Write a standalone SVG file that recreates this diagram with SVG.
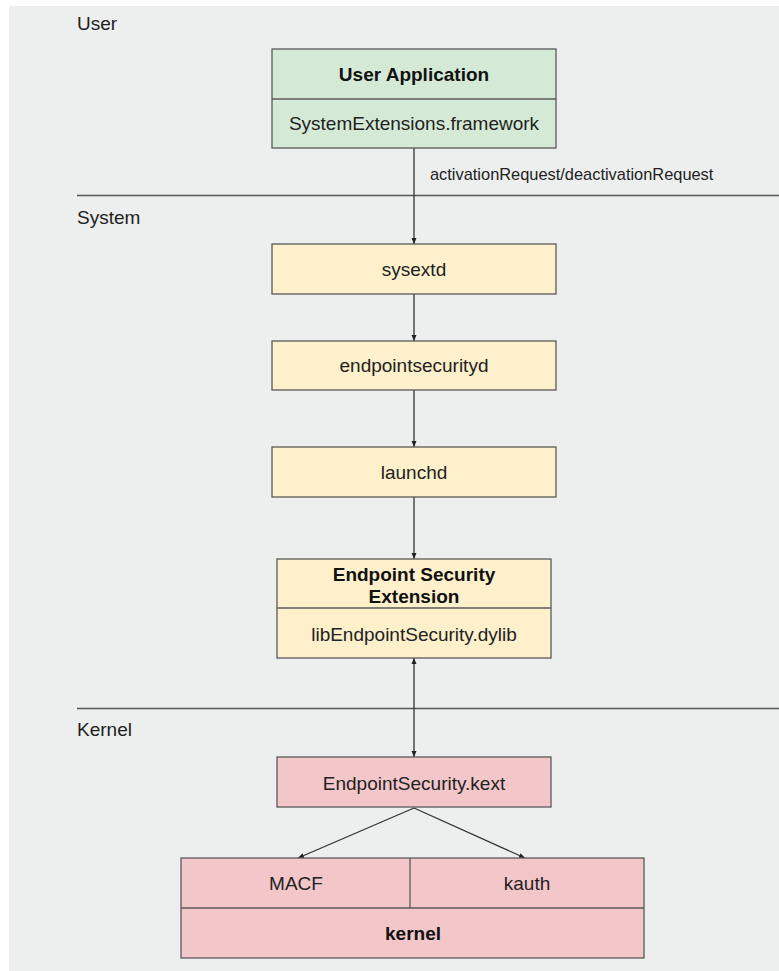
<svg xmlns="http://www.w3.org/2000/svg" width="779" height="971" viewBox="0 0 779 971">
  <style>
    .lane { font-family: "Liberation Sans", Arial, sans-serif; font-size: 19px; fill: #222; }
    .t { font-family: "Liberation Sans", Arial, sans-serif; font-size: 19px; fill: #222; text-anchor: middle; }
    .b { font-weight: bold; fill: #111; }
    .lbl { font-family: "Liberation Sans", Arial, sans-serif; font-size: 16.4px; fill: #222; }
    .box { stroke: #5a5a5a; stroke-width: 1.3; }
    .green { fill: #d5ead6; }
    .yellow { fill: #fdf0cb; }
    .pink { fill: #f3c6c9; }
    .sep { stroke: #555; stroke-width: 1.3; fill: none; }
    .edge { stroke: #333; stroke-width: 1.3; fill: none; }
  </style>
  <defs>
    <marker id="arr" viewBox="0 0 6 6" refX="6" refY="3" markerWidth="6" markerHeight="6" markerUnits="userSpaceOnUse" orient="auto-start-reverse">
      <path d="M0,0.5 L6,3 L0,5.5 z" fill="#222"/>
    </marker>
  </defs>

  <rect x="0" y="0" width="779" height="971" fill="#ffffff"/>
  <rect x="9" y="6" width="770" height="965" fill="#edeeee"/>

  <g id="lanes">
    <line class="sep" x1="77" y1="195.5" x2="779" y2="195.5"/>
    <line class="sep" x1="77" y1="708.5" x2="779" y2="708.5"/>
    <text class="lane" x="77" y="30">User</text>
    <text class="lane" x="77" y="224">System</text>
    <text class="lane" x="77" y="736">Kernel</text>
  </g>

  <g id="connectors">
    <line class="edge" x1="414" y1="148" x2="414" y2="244" marker-end="url(#arr)"/>
    <text class="lbl" x="430" y="180">activationRequest/deactivationRequest</text>
    <line class="edge" x1="414" y1="294" x2="414" y2="341" marker-end="url(#arr)"/>
    <line class="edge" x1="414" y1="390" x2="414" y2="447" marker-end="url(#arr)"/>
    <line class="edge" x1="414" y1="497" x2="414" y2="559" marker-end="url(#arr)"/>
    <line class="edge" x1="414" y1="658" x2="414" y2="757" marker-start="url(#arr)" marker-end="url(#arr)"/>
    <line class="edge" x1="414" y1="808" x2="298" y2="858" marker-end="url(#arr)"/>
    <line class="edge" x1="414" y1="808" x2="525" y2="858" marker-end="url(#arr)"/>
  </g>

  <g id="user-application">
    <rect class="box green" x="272" y="49" width="284" height="99"/>
    <line class="box" x1="272" y1="99" x2="556" y2="99"/>
    <text class="t b" x="414" y="81">User Application</text>
    <text class="t" x="414" y="130">SystemExtensions.framework</text>
  </g>

  <g id="sysextd">
    <rect class="box yellow" x="272" y="244" width="284" height="50"/>
    <text class="t" x="414" y="276">sysextd</text>
  </g>

  <g id="endpointsecurityd">
    <rect class="box yellow" x="272" y="341" width="284" height="49"/>
    <text class="t" x="414" y="372">endpointsecurityd</text>
  </g>

  <g id="launchd">
    <rect class="box yellow" x="272" y="447" width="284" height="50"/>
    <text class="t" x="414" y="479">launchd</text>
  </g>

  <g id="endpoint-security-extension">
    <rect class="box yellow" x="277" y="559" width="274" height="99"/>
    <line class="box" x1="277" y1="608" x2="551" y2="608"/>
    <text class="t b" x="414" y="581">Endpoint Security</text>
    <text class="t b" x="414" y="603">Extension</text>
    <text class="t" x="414" y="641">libEndpointSecurity.dylib</text>
  </g>

  <g id="endpointsecurity-kext">
    <rect class="box pink" x="277" y="757" width="274" height="50"/>
    <text class="t" x="414" y="790">EndpointSecurity.kext</text>
  </g>

  <g id="kernel">
    <rect class="box pink" x="181" y="858" width="463" height="100"/>
    <line class="box" x1="181" y1="908" x2="644" y2="908"/>
    <line class="box" x1="410" y1="858" x2="410" y2="908"/>
    <text class="t" x="296" y="890">MACF</text>
    <text class="t" x="527" y="890">kauth</text>
    <text class="t b" x="413" y="940">kernel</text>
  </g>
</svg>
